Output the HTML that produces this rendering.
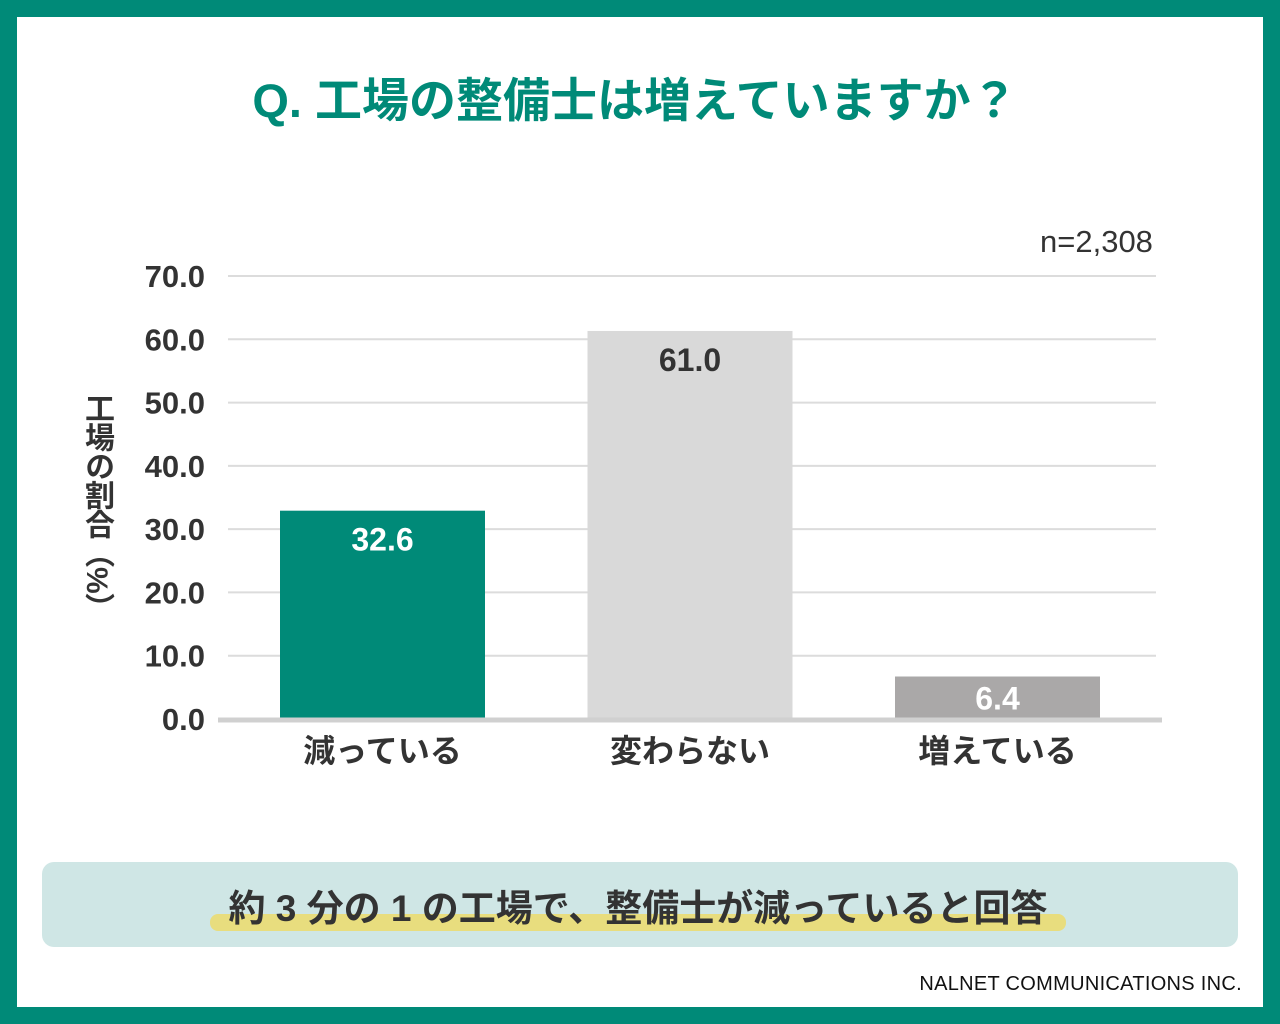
<!DOCTYPE html>
<html><head><meta charset="utf-8"><style>
body{margin:0;width:1280px;height:1024px;background:#008a78;font-family:"Liberation Sans","Noto Sans CJK JP",sans-serif;overflow:hidden}
#frame{position:absolute;left:17px;top:17px;width:1246px;height:990px;background:#fff}
#title{position:absolute;left:0;width:1270px;top:62px;text-align:center;font-size:47px;font-weight:bold;color:#008a78}
#n{position:absolute;left:1040px;top:224px;font-size:31px;color:#333}
#ytitle{position:absolute;left:74px;top:393px;writing-mode:vertical-rl;font-size:30px;font-weight:bold;color:#333;letter-spacing:-1px}
#box{position:absolute;left:42px;top:862px;width:1196px;height:85px;background:#cfe6e5;border-radius:12px}
#hl{position:absolute;left:210px;top:914px;width:856px;height:17px;background:#e8dd7e;border-radius:8px}
#sum{position:absolute;left:0;width:1276px;top:878px;text-align:center;font-size:37px;font-weight:bold;color:#333}
#credit{position:absolute;right:38px;top:973px;font-size:20px;color:#111;letter-spacing:0.3px}
</style></head><body>
<div id="frame"></div>
<div id="title">Q. 工場の整備士は増えていますか？</div>
<div id="n">n=2,308</div>
<div id="ytitle">工場の割合（%）</div>
<svg id="chart" width="1280" height="1024" style="position:absolute;left:0;top:0"></svg>
<div id="box"></div>
<div id="hl"></div>
<div id="sum">約 3 分の 1 の工場で、整備士が減っていると回答</div>
<div id="credit">NALNET COMMUNICATIONS INC.</div>
<script>
const categories=["減っている","変わらない","増えている"];
const values=[32.6,61.0,6.4];
const ticks=[0,10,20,30,40,50,60,70];
const colors=["#008a78","#d9d9d9","#aaa8a8"];
const labelColors=["#fff","#333","#fff"];
const svg=document.getElementById('chart');
const NS="http://www.w3.org/2000/svg";
const y0=719,ppu=(719-276)/70;
const y=v=>y0-v*ppu;
const x=i=>280+i*307.5;
const bw=205;
function mk(t,a){const e=document.createElementNS(NS,t);for(const k in a)e.setAttribute(k,a[k]);svg.appendChild(e);return e;}
ticks.forEach(t=>{
 if(t>0){const l=mk('line',{x1:228,x2:1156,y1:y(t),y2:y(t),stroke:'#dcdcdc','stroke-width':2});
 }
 const tx=mk('text',{x:205,y:y(t)+11,'text-anchor':'end','font-size':31,'font-weight':'bold',fill:'#333'});
 tx.textContent=t.toFixed(1);
 
 
});
values.forEach((v,i)=>{
 const h=y0-y(v);
 const r=mk('rect',{x:x(i),y:y(v)-2,width:bw,height:h+2,fill:colors[i]});
 
 
 const ly=h<60?y(v)+h/2+11:y(v)+38;
 const t=mk('text',{x:x(i)+bw/2,y:ly,'text-anchor':'middle','font-size':32,'font-weight':'bold',fill:labelColors[i]});
 t.textContent=v.toFixed(1);
 
 
 const c=mk('text',{x:x(i)+bw/2,y:762,'text-anchor':'middle','font-size':32,'font-weight':'bold',fill:'#333'});
 c.textContent=categories[i];
 
 
});
const b=mk('line',{x1:218,x2:1162,y1:y0+1,y2:y0+1,stroke:'#d0d0d0','stroke-width':5});


</script>
</body></html>
